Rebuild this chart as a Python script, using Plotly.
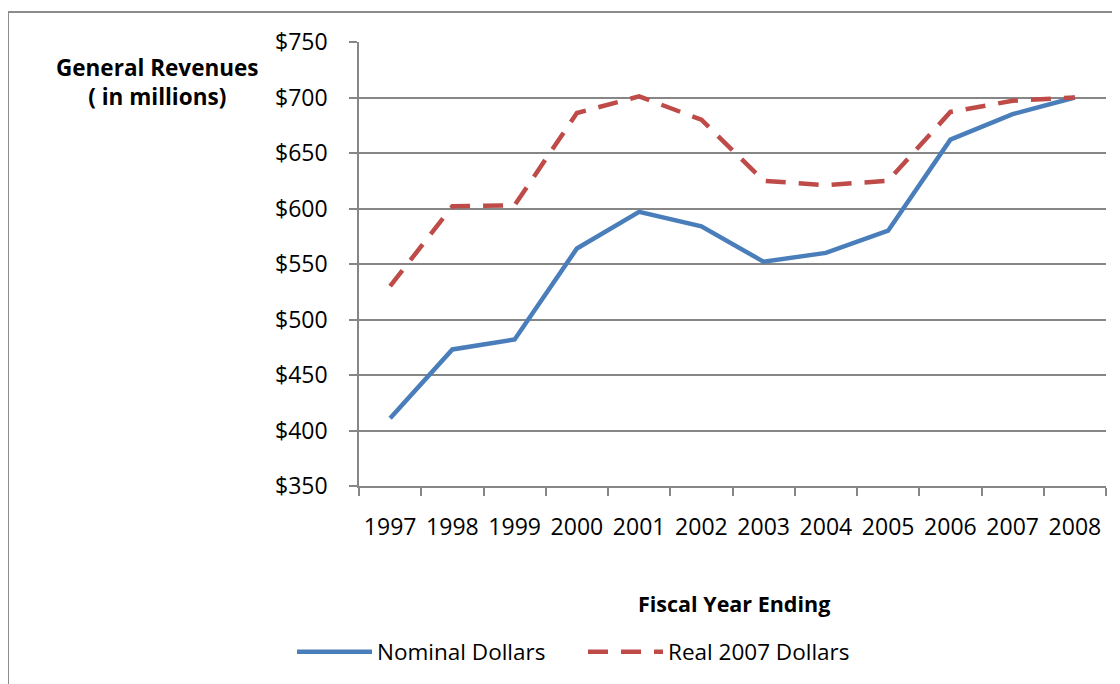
import plotly.graph_objects as go

years = ["1997", "1998", "1999", "2000", "2001", "2002", "2003", "2004", "2005", "2006", "2007", "2008"]
nominal = [411, 473, 482, 564, 597, 584, 552, 560, 580, 662, 685, 700]
real_2007 = [530, 602, 603, 686, 701, 680, 625, 621, 625, 687, 697, 700]

FONT = "Open Sans"
OFF = 8  # page body margin
W, H = 1112, 676
L, T = 359 - OFF, 42 - OFF
R = W - (1106 - OFF)
B = H - (487 - OFF)
PW, PH = W - L - R, H - T - B

def px(x):  # screen x -> paper
    return (x - OFF - L) / PW

def py(y):  # screen y -> paper
    return (H - B - (y - OFF)) / PH

fig = go.Figure()
fig.add_trace(go.Scatter(x=years, y=nominal, mode="lines", name="Nominal Dollars",
                         line=dict(color="#4A7EBB", width=4.5)))
fig.add_trace(go.Scatter(x=years, y=real_2007, mode="lines", name="Real 2007 Dollars",
                         line=dict(color="#BE4B48", width=4.5, dash="20px,13px")))

fig.update_layout(
    width=W, height=H,
    margin=dict(l=L, r=R, t=T, b=B, pad=0),
    paper_bgcolor="white", plot_bgcolor="white",
    font=dict(family=FONT, size=23, color="black"),
    showlegend=True,
    legend=dict(orientation="h", x=px(292), y=py(652), xanchor="left", yanchor="middle",
                font=dict(family=FONT, size=22.5, color="black"), entrywidth=201,
                bgcolor="rgba(0,0,0,0)", itemwidth=75),
    xaxis=dict(type="category", range=[-0.5, 11.5], showgrid=False,
               showline=True, linecolor="#868686", linewidth=1.5,
               ticks="outside", ticklen=8, tickcolor="#868686", tickwidth=1.5,
               tickson="boundaries", ticklabelstandoff=20,
               tickfont=dict(family=FONT, size=23, color="black")),
    yaxis=dict(range=[350, 750], dtick=50, tickprefix="$", showgrid=True,
               gridcolor="#868686", gridwidth=1.5, zeroline=False,
               showline=True, linecolor="#868686", linewidth=1.5,
               ticks="outside", ticklen=8, tickcolor="#868686", tickwidth=1.5,
               ticklabelstandoff=17,
               tickfont=dict(family=FONT, size=23, color="black")),
    shapes=[dict(type="rect", xref="paper", yref="paper",
                 x0=px(8), x1=px(1140), y0=py(720), y1=py(12),
                 line=dict(color="#8C8C8C", width=2), fillcolor="rgba(0,0,0,0)", layer="below")],
    annotations=[
        dict(text="<b>General Revenues</b><br><b>( in millions)</b>", xref="paper", yref="paper",
             x=px(157), y=py(82), xanchor="center", yanchor="middle", showarrow=False,
             font=dict(family=FONT, size=22.5, color="black"), align="center"),
        dict(text="<b>Fiscal Year Ending</b>", xref="paper", yref="paper",
             x=px(734), y=py(605), xanchor="center", yanchor="middle", showarrow=False,
             font=dict(family=FONT, size=21.5, color="black")),
    ],
)

fig.write_html("out.html")
